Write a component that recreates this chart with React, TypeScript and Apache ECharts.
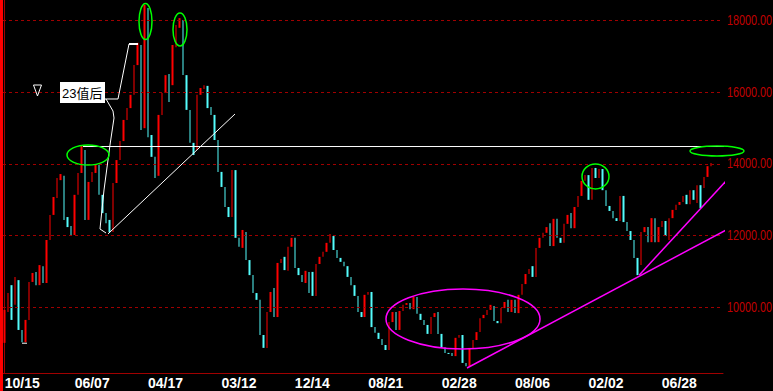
import React, { useEffect, useRef } from "react";
import * as echarts from "echarts";

const N = 206;
const tickIndices = [0, 20, 41, 62, 83, 104, 125, 146, 167, 188];
const tickLabels = ["10/15", "06/07", "04/17", "03/12", "12/14", "08/21", "02/28", "08/06", "02/02", "06/28"];
const gridValues = [10000, 12000, 14000, 16000, 18000];

const opens = [
  9010, 9870, 10620, 10070, 10760, 9370, 9030, 9650, 10710, 10990,
  10620, 11150, 10680, 11880, 12580, 13050, 13550, 13670, 12520, 12270,
  12020, 13140, 13750, 14390, 12440, 13500, 13750, 13970, 13140, 12630,
  12440, 12100, 13470, 14110, 14640, 15230, 15560, 15930, 16760, 17320,
  15000, 18350, 14810, 14200, 13670, 15370, 15980, 16510, 16200, 17260,
  17800, 18020, 16480, 15510, 14590, 14390, 15930, 16090, 16180, 15590,
  15370, 14670, 13780, 13360, 12800, 12520, 13830, 11940, 11660, 12100,
  11320, 10900, 10400, 10210, 9230, 8870, 9870, 10540, 9730, 11240,
  11410, 11020, 11690, 11940, 11100, 10900, 10680, 10990, 10990, 10320,
  11210, 11410, 11550, 11800, 11990, 11600, 11380, 11270, 11150, 10850,
  10620, 10320, 9870, 9730, 10350, 10430, 9450, 9290, 9120, 8950,
  8810, 9590, 9870, 9370, 9900, 10070, 10120, 9950, 10290, 9820,
  9650, 9510, 9260, 9730, 9870, 9260, 8890, 8730, 8730, 8640,
  9150, 9230, 8450, 8360, 8870, 9090, 9310, 9700, 9790, 9930,
  10040, 9620, 9560, 9980, 10210, 9870, 10210, 9840, 10350, 10650,
  10930, 11150, 10850, 11660, 11940, 12080, 12350, 11710, 12470, 11940,
  11800, 12330, 12630, 12210, 12800, 13110, 13530, 13690, 13000, 13890,
  13610, 13860, 13270, 12830, 12690, 12490, 12410, 13110, 12380, 12130,
  11880, 11380, 11180, 12100, 12240, 11820, 12490, 11820, 12240, 12410,
  11880, 12490, 12720, 12860, 12940, 13140, 12880, 13270, 12910, 13410,
  13330, 13640, 13940,
];

const closes = [
  9930, 10400, 9650, 10850, 9370, 9030, 9650, 10710, 10960, 10620,
  11180, 10680, 11880, 12580, 13080, 13610, 13720, 12440, 12240, 12020,
  13140, 13750, 14530, 12440, 13500, 13780, 14000, 13140, 12630, 12350,
  12100, 13470, 14110, 14640, 15230, 15560, 15930, 16760, 17380, 14950,
  18440, 14750, 14200, 13610, 15370, 15980, 16480, 15730, 17320, 17880,
  18070, 16480, 15510, 14590, 14250, 15930, 16120, 16200, 15560, 15370,
  14670, 13780, 13360, 12800, 12520, 13830, 11940, 11690, 12160, 11320,
  10900, 10400, 10210, 9230, 8870, 9870, 10430, 9730, 11240, 11350,
  11040, 11690, 11940, 11100, 10900, 10710, 11020, 10400, 10320, 11210,
  11410, 11550, 11800, 12050, 11600, 11380, 11270, 11150, 10850, 10620,
  10320, 9870, 9730, 10350, 10430, 9450, 9290, 9120, 8950, 8810,
  9590, 9870, 9370, 9900, 10070, 10120, 9950, 10290, 9820, 9650,
  9510, 9260, 9730, 9840, 9260, 8890, 8730, 8700, 8640, 9150,
  9230, 8450, 8360, 8870, 9090, 9310, 9700, 9790, 9930, 10070,
  9620, 9560, 9980, 10150, 9870, 10210, 9840, 10350, 10650, 10930,
  11070, 10850, 11660, 11940, 12080, 12240, 11710, 12470, 11940, 11800,
  12330, 12580, 12210, 12800, 13110, 13530, 13690, 13000, 13890, 13610,
  13860, 13270, 12830, 12690, 12490, 12410, 13110, 12380, 12130, 11880,
  11380, 10900, 12100, 12240, 11820, 12490, 11820, 12240, 12410, 11990,
  12490, 12720, 12860, 12940, 13110, 12880, 13270, 13000, 13410, 12770,
  13640, 13940, 14030,
];

// annotation geometry in data coordinates: [bar position, value]
const resistanceLine = [[22.39, 14488], [207.22, 14488]];
const whiteTrend = [[29.54, 12050], [65.88, 15395]];
const calloutUp = [[28.68, 15814], [32.4, 15814], [35.55, 17348]];
const calloutCap = [[35.55, 17348], [38.13, 17348]];
const calloutDown = [[28.97, 15814], [30.97, 15479], [31.26, 15284], [30.11, 14530], [28.4, 13275], [27.25, 12187], [28.97, 12075]];
const lowMark = [[4.94, 9000], [6.37, 9000]];
const magentaLong = [[132.26, 8309], [219.81, 12856]];
const magentaSteep = [[181.55, 10903], [213.51, 14279]];
const greenRingCenters = [[23.82, 14251], [40.27, 17976], [50.14, 17753], [169.02, 13652], [203.78, 14363]];
const greenRingRadii = [[21, 10], [6.5, 18], [7, 16.5], [13.5, 12.5], [27, 5]];
const magentaRingCenter = [131.11, 9676];
const noteAnchor = [15.81, 16288];
const markerAnchor = [9.37, 16204];

export default function App() {
  const ref = useRef<HTMLDivElement>(null);
  useEffect(() => {
    document.body.style.margin = "0";
    document.body.style.background = "#000";
    const chart = echarts.init(ref.current as HTMLDivElement, null, { renderer: "svg" });
    const categories = Array.from({ length: N }, (_, i) => {
      const k = tickIndices.indexOf(i);
      return k >= 0 ? tickLabels[k] : "c" + i;
    });
    const candleData = opens.map((o, i) => {
      const c = closes[i];
      return [o, c, Math.min(o, c), Math.max(o, c)];
    });
    const mkLine = (data: number[][], color: string, width: number) => ({
      type: "line",
      xAxisIndex: 1,
      yAxisIndex: 0,
      data,
      symbol: "none",
      clip: false,
      silent: true,
      z: 5,
      lineStyle: { color, width },
    });
    chart.setOption({
      animation: false,
      backgroundColor: "#000",
      grid: { left: 3, right: 50, top: 0, bottom: 18 },
      xAxis: [
        {
          type: "category",
          data: categories,
          boundaryGap: true,
          axisLine: { show: true, lineStyle: { color: "#a00000", width: 1 } },
          axisTick: { show: false },
          splitLine: { show: false },
          axisLabel: {
            show: true,
            interval: (i: number) => tickIndices.includes(i),
            color: "#ffffff",
            fontWeight: "bold",
            fontSize: 14,
            fontFamily: "'Liberation Sans',Arial,sans-serif",
            align: "left",
            margin: 3,
          },
        },
        { type: "value", min: -0.5, max: N - 0.5, show: false },
      ],
      yAxis: {
        type: "value",
        position: "right",
        min: 8169,
        max: 18576,
        axisLine: { show: true, lineStyle: { color: "#a00000" } },
        axisTick: { show: false },
        axisLabel: { show: false },
        splitLine: { show: false },
      },
      series: [
        {
          type: "candlestick",
          data: candleData,
          barWidth: 2,
          itemStyle: {
            color: "#ff0000",
            color0: "#54fcfc",
            borderColor: "#ff0000",
            borderColor0: "#54fcfc",
            borderWidth: 0,
          },
          markLine: {
            silent: true,
            symbol: ["none", "none"],
            data: gridValues.map((v) => ({ yAxis: v })),
            lineStyle: { color: "#a00000", type: [3, 3], width: 1 },
            label: { show: false },
          },
        },
        mkLine(resistanceLine, "#ffffff", 1),
        mkLine(whiteTrend, "#ffffff", 1),
        mkLine(calloutUp, "#ffffff", 1),
        mkLine(calloutCap, "#ffffff", 2),
        mkLine(calloutDown, "#ffffff", 1),
        mkLine(lowMark, "#ffffff", 1),
        mkLine(magentaLong, "#ff00ff", 1.5),
        mkLine(magentaSteep, "#ff00ff", 1.5),
      ],
    });
    const px = (p: number[]) => chart.convertToPixel({ seriesIndex: 1 }, p) as number[];
    const graphics: any[] = [
      { type: "rect", shape: { x: 0, y: 0, width: 3, height: 391 }, style: { fill: "#ff0000" }, z: 100, silent: true },
    ];
    // value labels on the right axis, placed through the y scale
    gridValues.forEach((v) => {
      const [ax, ay] = px([N - 0.5, v]);
      graphics.push({
        type: "text",
        x: ax + 4,
        y: ay,
        scaleX: 0.77,
        style: {
          text: v.toFixed(2),
          fill: "#c00000",
          fontSize: 14,
          fontFamily: "'Liberation Sans',Arial,sans-serif",
          verticalAlign: "middle",
          align: "left",
        },
        z: 100,
        silent: true,
      });
    });
    greenRingCenters.forEach((c, i) => {
      const [cx, cy] = px(c);
      graphics.push({
        type: "ellipse",
        shape: { cx, cy, rx: greenRingRadii[i][0], ry: greenRingRadii[i][1] },
        style: { fill: "transparent", stroke: "#00ff00", lineWidth: 1.5 },
        z: 100,
        silent: true,
      });
    });
    const [mx, my] = px(magentaRingCenter);
    graphics.push({
      type: "ellipse",
      shape: { cx: mx, cy: my, rx: 77, ry: 30 },
      style: { fill: "transparent", stroke: "#ff00ff", lineWidth: 1.5 },
      z: 100,
      silent: true,
    });
    const [nx, ny] = px(noteAnchor);
    graphics.push({
      type: "rect",
      shape: { x: nx, y: ny, width: 45, height: 21 },
      style: { fill: "#ffffff" },
      z: 101,
      silent: true,
    });
    graphics.push({
      type: "text",
      x: nx + 2,
      y: ny + 11,
      style: {
        text: "23值后",
        fill: "#000000",
        fontSize: 13,
        fontFamily: "'Liberation Sans','Noto Sans CJK SC',sans-serif",
        verticalAlign: "middle",
        align: "left",
      },
      z: 102,
      silent: true,
    });
    const [tx, ty] = px(markerAnchor);
    graphics.push({
      type: "polygon",
      shape: { points: [[tx - 4, ty], [tx + 4, ty], [tx, ty + 11]] },
      style: { fill: "transparent", stroke: "#ffffff", lineWidth: 1 },
      z: 100,
      silent: true,
    });
    chart.setOption({ graphic: graphics });
    return () => chart.dispose();
  }, []);
  return <div ref={ref} style={{ width: 773, height: 391 }} />;
}
